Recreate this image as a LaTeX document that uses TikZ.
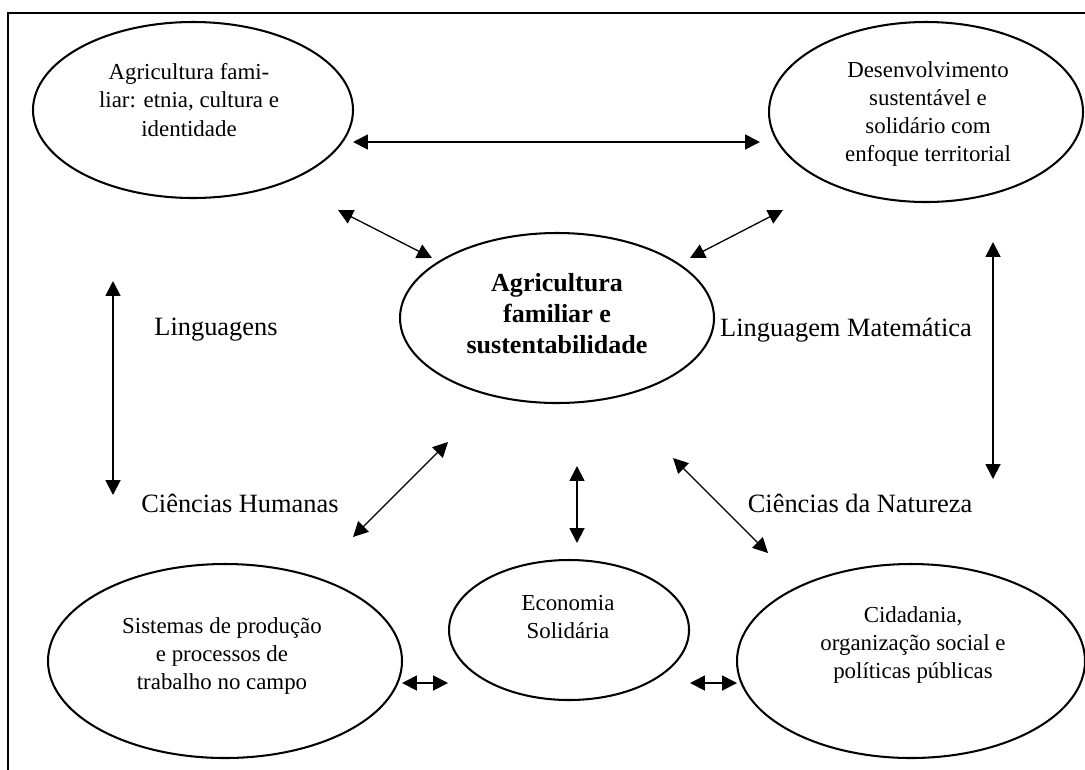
\documentclass[tikz,border=0pt]{standalone}
\usepackage{fontspec}
\setmainfont{Liberation Serif}
\usetikzlibrary{shapes.geometric,arrows.meta}
\newcommand{\pxu}{0.5376pt}
\tikzset{
  oval/.style={ellipse, draw, line width=1.1pt, inner sep=0pt},
  ovaltext/.style={align=center, font=\fontsize{12.3}{15.1}\selectfont, inner sep=0pt},
  boldtext/.style={align=center, font=\fontsize{14}{16.7}\selectfont\bfseries, inner sep=0pt},
  areatext/.style={font=\fontsize{14.2}{17}\selectfont, inner sep=0pt},
  biarrow/.style={{Triangle[length=8pt,width=8pt]}-{Triangle[length=8pt,width=8pt]}, line width=1pt},
  diagarrow/.style={{Triangle[length=8pt,width=8pt]}-{Triangle[length=8pt,width=8pt]}, line width=0.7pt},
  frameline/.style={line width=1.1pt}
}
\begin{document}
\begin{tikzpicture}[x=0.5376pt, y=-0.5376pt]
\useasboundingbox (0,0) rectangle (1085,769);
\clip (0,0) rectangle (1085,769);
% frame
\draw[frameline] (8,780) -- (8,13) -- (1095,13);

% ellipses
\node[oval, minimum width={320*\pxu}, minimum height={176*\pxu}] (tl) at (193,110) {};
\node[oval, minimum width={314*\pxu}, minimum height={180*\pxu}] (tr) at (926,112) {};
\node[oval, minimum width={314*\pxu}, minimum height={170*\pxu}] (ct) at (557,318) {};
\node[oval, minimum width={354*\pxu}, minimum height={194*\pxu}] (bl) at (225,661) {};
\node[oval, minimum width={240*\pxu}, minimum height={140*\pxu}] (bm) at (569,630) {};
\node[oval, minimum width={348*\pxu}, minimum height={194*\pxu}] (br) at (911,661) {};

% ellipse texts
\node[ovaltext] (tlt) at (189,100) {Agricultura fami-\\liar: etnia, cultura e\\identidade};
\node[ovaltext] (trt) at (928,114) {Desenvolvimento\\sustentável e\\solidário com\\enfoque territorial};
\node[boldtext] (ctt) at (557,314) {Agricultura\\familiar e\\sustentabilidade};
\node[ovaltext] (blt) at (222,656) {Sistemas de produção\\e processos de\\trabalho no campo};
\node[ovaltext] (bmt) at (568,617) {Economia\\Solidária};
\node[ovaltext] (brt) at (913,645) {Cidadania,\\organização social e\\políticas públicas};

% area labels
\node[areatext] (ling) at (216,330) {Linguagens};
\node[areatext] (mat) at (846,330) {Linguagem Matemática};
\node[areatext] (hum) at (240,503) {Ciências Humanas};
\node[areatext] (nat) at (860,503) {Ciências da Natureza};

% arrow end points
\coordinate (h1) at (353,142);  \coordinate (h2) at (760,142);
\coordinate (d1a) at (338,210); \coordinate (d1b) at (432,258);
\coordinate (d2a) at (783,210); \coordinate (d2b) at (690,258);
\coordinate (v1a) at (113,281); \coordinate (v1b) at (113,495);
\coordinate (v2a) at (993,242); \coordinate (v2b) at (993,479);
\coordinate (d3a) at (448,442); \coordinate (d3b) at (353,537);
\coordinate (v3a) at (577,466); \coordinate (v3b) at (577,543);
\coordinate (d4a) at (673,458); \coordinate (d4b) at (768,553);
\coordinate (s1a) at (402,683); \coordinate (s1b) at (448,683);
\coordinate (s2a) at (690,683); \coordinate (s2b) at (737,683);

% arrows
\draw[biarrow] (h1) -- (h2);
\draw[diagarrow] (d1a) -- (d1b);
\draw[diagarrow] (d2a) -- (d2b);
\draw[biarrow] (v1a) -- (v1b);
\draw[biarrow] (v2a) -- (v2b);
\draw[diagarrow] (d3a) -- (d3b);
\draw[biarrow] (v3a) -- (v3b);
\draw[diagarrow] (d4a) -- (d4b);
\draw[biarrow] (s1a) -- (s1b);
\draw[biarrow] (s2a) -- (s2b);
\end{tikzpicture}
\end{document}
